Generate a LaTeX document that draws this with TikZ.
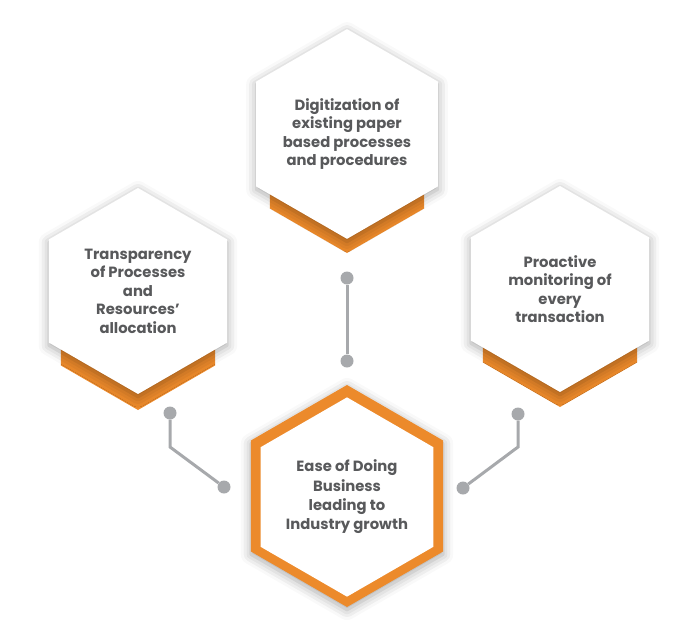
\documentclass[tikz,border=0pt]{standalone}
\usepackage{fontspec}
\setmainfont{Poppins}
\usetikzlibrary{shapes.geometric,shadows.blur}
\definecolor{hexorange}{HTML}{EC8A2B}
\definecolor{hextext}{HTML}{58595B}
\definecolor{linkgray}{HTML}{A7A9AC}
\tikzset{
  hexbase/.style={regular polygon,regular polygon sides=6,shape border rotate=30,inner sep=0pt},
  hexwhite/.style={hexbase,fill=white,minimum size=206pt,text=hextext,align=center,
    font=\bfseries\fontsize{14.8}{18.5}\selectfont,
    blur shadow={shadow xshift=0pt,shadow yshift=-3pt,shadow blur radius=10pt,shadow opacity=35}},
  hexback/.style={hexbase,fill=hexorange,minimum size=178pt},
  dot/.style={circle,fill=linkgray,inner sep=0pt,minimum size=13pt},
  link/.style={linkgray,line width=3pt}
}
\begin{document}
\begin{tikzpicture}[x=1pt,y=-1pt]
  \useasboundingbox (0,0) rectangle (685,643);
  % orange backs
  \node[hexback] (topback) at (347,164) {};
  \node[hexback] (leftback) at (138,321) {};
  \node[hexback] (rightback) at (560,318) {};
  % white hexagons
  \node[hexwhite] (top) at (347,134) {Digitization of\\existing paper\\based processes\\and procedures};
  \node[hexwhite] (left) at (138,291) {Transparency\\of Processes\\and\\Resources’\\allocation};
  \node[hexwhite] (right) at (560,289) {Proactive\\monitoring of\\every\\transaction};
  % centre hexagon
  \node[hexbase,fill=hexorange,minimum size=222pt,
    blur shadow={shadow xshift=0pt,shadow yshift=-3pt,shadow blur radius=10pt,shadow opacity=35}] (centerring) at (347,496) {};
  \node[hexbase,fill=white,minimum size=186pt,text=hextext,align=center,
    font=\bfseries\fontsize{14.8}{19.3}\selectfont] (center) at (347,497) {Ease of Doing\\Business\\leading to\\Industry growth};
  % connectors
  \node[dot] (topA) at (347,278) {};
  \node[dot] (topB) at (347,361) {};
  \node[dot] (leftA) at (170,413) {};
  \node[dot] (leftB) at (224,487) {};
  \node[dot] (rightA) at (518,414) {};
  \node[dot] (rightB) at (463,488) {};
  \coordinate (leftC) at (170,447);
  \coordinate (rightC) at (518,447);
  \draw[link] (topA) -- (topB);
  \draw[link] (leftA) -- (leftC) -- (leftB);
  \draw[link] (rightA) -- (rightC) -- (rightB);
\end{tikzpicture}
\end{document}
